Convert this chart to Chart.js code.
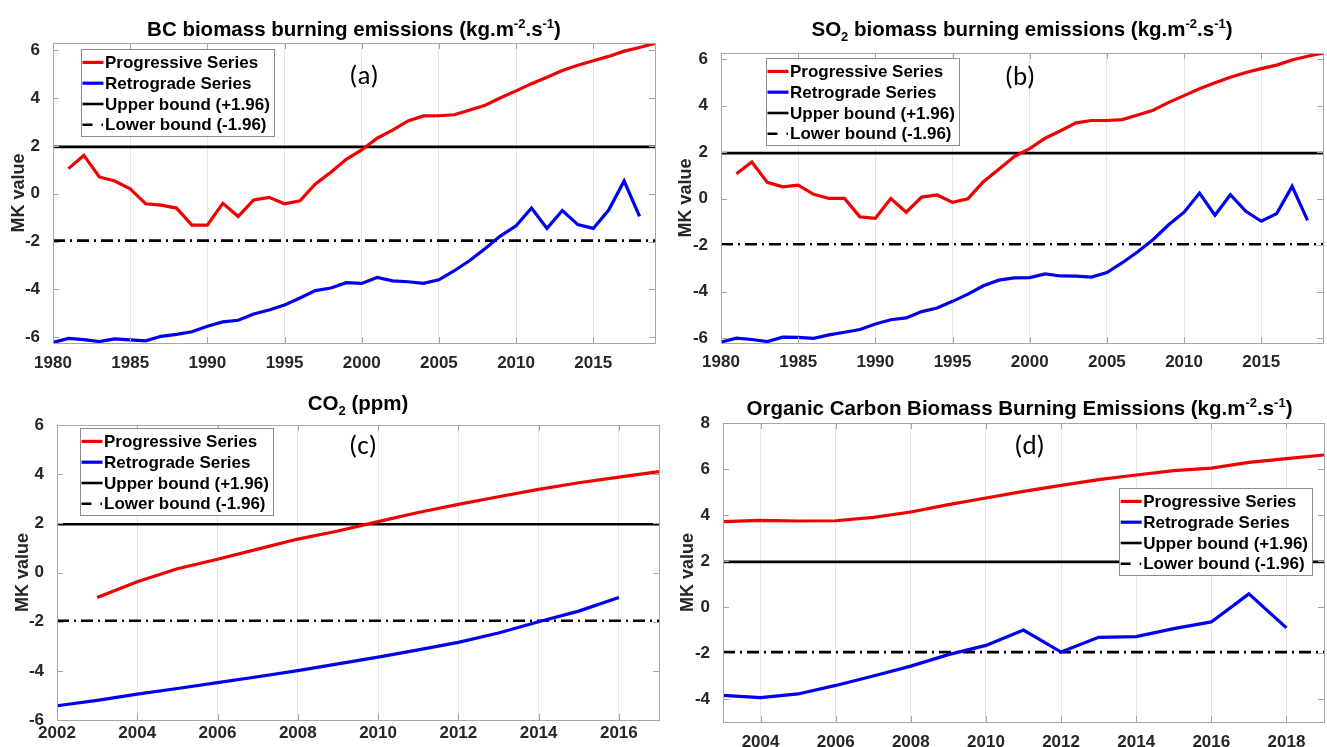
<!DOCTYPE html>
<html>
<head>
<meta charset="utf-8">
<title>Mann-Kendall sequential test</title>
<script src="https://cdn.jsdelivr.net/npm/chart.js@4.4.0/dist/chart.umd.min.js"></script>
<style>
  html, body { margin: 0; padding: 0; background: #fff; }
  body { width: 1327px; height: 747px; position: relative; overflow: hidden; }
  canvas { position: absolute; }
</style>
</head>
<body>
<canvas id="chart-a" width="660" height="375" style="left:0;top:0"></canvas>
<canvas id="chart-b" width="667" height="375" style="left:660px;top:0"></canvas>
<canvas id="chart-c" width="660" height="372" style="left:0;top:375px"></canvas>
<canvas id="chart-d" width="667" height="372" style="left:660px;top:375px"></canvas>
<script>
// ---- data ----
const yearsA = [1980, 1981, 1982, 1983, 1984, 1985, 1986, 1987, 1988, 1989, 1990, 1991, 1992, 1993, 1994, 1995, 1996, 1997, 1998, 1999,
                2000, 2001, 2002, 2003, 2004, 2005, 2006, 2007, 2008, 2009, 2010, 2011, 2012, 2013, 2014, 2015, 2016, 2017, 2018, 2019];
const progA = [null, 1.05, 1.6, 0.7, 0.53, 0.2, -0.42, -0.48, -0.6, -1.31, -1.31, -0.4, -0.95, -0.26, -0.15, -0.42, -0.3, 0.41, 0.9, 1.44,
               1.83, 2.32, 2.66, 3.04, 3.25, 3.26, 3.3, 3.5, 3.7, 4.01, 4.3, 4.6, 4.87, 5.15, 5.37, 5.56, 5.74, 5.96, 6.11, 6.29];
const retroA = [-6.22, -6.05, -6.1, -6.18, -6.07, -6.11, -6.15, -5.96, -5.88, -5.77, -5.54, -5.36, -5.29, -5.03, -4.86, -4.65, -4.36, -4.05, -3.94, -3.72,
                -3.75, -3.5, -3.64, -3.68, -3.75, -3.6, -3.22, -2.79, -2.29, -1.76, -1.34, -0.6, -1.45, -0.7, -1.29, -1.45, -0.68, 0.53, -0.95, null];

const yearsB = yearsA;
const progB = [null, 1.07, 1.58, 0.7, 0.51, 0.58, 0.19, 0.01, 0.01, -0.78, -0.84, 0.01, -0.58, 0.07, 0.16, -0.16, 0.0, 0.73, 1.27, 1.81,
               2.15, 2.6, 2.92, 3.26, 3.36, 3.36, 3.4, 3.6, 3.8, 4.14, 4.43, 4.72, 4.98, 5.22, 5.42, 5.59, 5.74, 5.96, 6.12, 6.26];
const retroB = [-6.16, -5.99, -6.05, -6.14, -5.95, -5.96, -6.0, -5.85, -5.74, -5.62, -5.38, -5.2, -5.12, -4.85, -4.7, -4.41, -4.1, -3.74, -3.5, -3.4,
                -3.39, -3.23, -3.32, -3.33, -3.37, -3.17, -2.75, -2.28, -1.75, -1.12, -0.58, 0.24, -0.71, 0.17, -0.54, -0.97, -0.64, 0.53, -0.93, null];

const yearsC = [2002, 2003, 2004, 2005, 2006, 2007, 2008, 2009, 2010, 2011, 2012, 2013, 2014, 2015, 2016, 2017];
const progC = [null, -1.02, -0.38, 0.15, 0.54, 0.95, 1.36, 1.69, 2.07, 2.44, 2.77, 3.08, 3.38, 3.65, 3.88, 4.1];
const retroC = [-5.42, -5.2, -4.95, -4.72, -4.48, -4.24, -3.99, -3.72, -3.44, -3.15, -2.84, -2.46, -2.0, -1.57, -1.02, null];

const yearsD = [2003, 2004, 2005, 2006, 2007, 2008, 2009, 2010, 2011, 2012, 2013, 2014, 2015, 2016, 2017, 2018, 2019];
const progD = [3.71, 3.77, 3.74, 3.75, 3.9, 4.13, 4.45, 4.74, 5.03, 5.29, 5.54, 5.74, 5.93, 6.04, 6.29, 6.45, 6.61];
const retroD = [-3.84, -3.94, -3.78, -3.41, -3.0, -2.57, -2.07, -1.67, -1.0, -1.96, -1.32, -1.29, -0.94, -0.65, 0.57, -0.91, null];

// tick labels
const xTicksAB = [1980, 1985, 1990, 1995, 2000, 2005, 2010, 2015];
const xTicksC = [2002, 2004, 2006, 2008, 2010, 2012, 2014, 2016];
const xTicksD = [2004, 2006, 2008, 2010, 2012, 2014, 2016, 2018];
const yTicksABC = [-6, -4, -2, 0, 2, 4, 6];
const yTicksD = [-4, -2, 0, 2, 4, 6, 8];

const upperBound = 1.96;
const lowerBound = -1.96;

// ---- style ----
const FONT = "'Liberation Sans', Arial, Helvetica, sans-serif";
const TICK_COLOR = '#262626';
const BOX_COLOR = '#a6a6a6';
const DASH_DOT = [12, 5, 2, 5];

// title with super/subscripts, drawn centred over the plot area
const titlePlugin = {
    id: 'mkTitle',
    afterDraw(chart, args, opts) {
        if (!opts.parts) return;
        const ctx = chart.ctx, a = chart.chartArea;
        const size = 20.5, small = 13;
        ctx.save();
        ctx.fillStyle = '#000';
        ctx.textBaseline = 'alphabetic';
        let total = 0;
        opts.parts.forEach(p => {
            ctx.font = `bold ${p[1] ? small : size}px ${FONT}`;
            total += ctx.measureText(p[0]).width;
        });
        let x = (a.left + a.right) / 2 + (opts.dx || 0) - total / 2;
        opts.parts.forEach(p => {
            ctx.font = `bold ${p[1] ? small : size}px ${FONT}`;
            const dy = p[1] === 'sup' ? -8 : p[1] === 'sub' ? 5 : 0;
            ctx.textAlign = 'left';
            ctx.fillText(p[0], x, opts.y + dy);
            x += ctx.measureText(p[0]).width;
        });
        // panel letter
        ctx.font = `27px Carlito, Lato, 'Open Sans', sans-serif`;
        ctx.textAlign = 'center';
        ctx.textBaseline = 'middle';
        ctx.fillText(opts.letter, (a.left + a.right) / 2 + opts.letterDx, opts.letterY);
        ctx.restore();
    }
};

// axes box with inward tick marks (MATLAB "box on")
const boxPlugin = {
    id: 'mkBox',
    afterDatasetsDraw(chart) {
        const ctx = chart.ctx, a = chart.chartArea;
        const xs = chart.scales.x, ys = chart.scales.y;
        ctx.save();
        ctx.strokeStyle = BOX_COLOR;
        ctx.lineWidth = 1;
        ctx.strokeRect(Math.round(a.left) + 0.5, Math.round(a.top) + 0.5, Math.round(a.right - a.left), Math.round(a.bottom - a.top));
        ctx.beginPath();
        ys.ticks.forEach(t => {
            const y = Math.round(ys.getPixelForValue(t.value)) + 0.5;
            ctx.moveTo(a.left, y); ctx.lineTo(a.left + 6, y);
            ctx.moveTo(a.right, y); ctx.lineTo(a.right - 6, y);
        });
        xs.ticks.forEach(t => {
            const x = Math.round(xs.getPixelForValue(t.value)) + 0.5;
            ctx.moveTo(x, a.bottom); ctx.lineTo(x, a.bottom - 6);
            ctx.moveTo(x, a.top); ctx.lineTo(x, a.top + 6);
        });
        ctx.stroke();
        ctx.restore();
    }
};

// legend box inside the plot area
const legendPlugin = {
    id: 'mkLegend',
    afterDatasetsDraw(chart, args, opts) {
        const ctx = chart.ctx, a = chart.chartArea;
        const items = chart.data.datasets;
        const rowH = 20.8, lineLen = 21;
        ctx.save();
        ctx.font = `bold 17px ${FONT}`;
        const textW = Math.max(...items.map(d => ctx.measureText(d.label).width));
        const w = 1.5 + lineLen + 1.5 + textW + 4;
        const h = rowH * items.length + 4;
        const x = opts.right != null ? a.right - opts.right - w : a.left + opts.left;
        const y = a.top + opts.top;
        ctx.fillStyle = '#fff';
        ctx.fillRect(x, y, w, h);
        ctx.strokeStyle = '#8c8c8c';
        ctx.lineWidth = 1;
        ctx.strokeRect(Math.round(x) + 0.5, Math.round(y) + 0.5, Math.round(w), Math.round(h));
        items.forEach((d, i) => {
            const cy = y + 3 + rowH * (i + 0.5);
            ctx.strokeStyle = d.borderColor;
            ctx.lineWidth = d.borderWidth;
            ctx.setLineDash(d.borderDash ? [10, 9, 1.5, 10] : []);
            ctx.beginPath();
            ctx.moveTo(x + 1.5, cy);
            ctx.lineTo(x + 1.5 + lineLen, cy);
            ctx.stroke();
            ctx.setLineDash([]);
            ctx.fillStyle = '#000';
            ctx.textAlign = 'left';
            ctx.textBaseline = 'middle';
            ctx.fillText(d.label, x + 3 + lineLen, cy + 1);
        });
        ctx.restore();
    }
};

function makeChart(id, cfg) {
    const years = cfg.years;
    const first = years[0], last = years[years.length - 1];
    return new Chart(document.getElementById(id), {
        type: 'line',
        data: {
            labels: years,
            datasets: [
                { label: 'Progressive Series', data: cfg.prog, borderColor: '#f00000', borderWidth: 3.2 },
                { label: 'Retrograde Series', data: cfg.retro, borderColor: '#0000f0', borderWidth: 3.2 },
                { label: 'Upper bound (+1.96)', data: [{ x: first, y: upperBound }, { x: last, y: upperBound }], borderColor: '#000', borderWidth: 2.6 },
                { label: 'Lower bound (-1.96)', data: [{ x: first, y: lowerBound }, { x: last, y: lowerBound }], borderColor: '#000', borderWidth: 2.6, borderDash: DASH_DOT }
            ]
        },
        options: {
            responsive: false,
            animation: false,
            devicePixelRatio: 1,
            elements: { point: { radius: 0 }, line: { tension: 0 } },
            layout: { padding: { top: cfg.padTop, right: cfg.padRight, left: 0, bottom: 0 } },
            plugins: {
                legend: { display: false },
                tooltip: { enabled: false },
                mkTitle: { parts: cfg.title, y: cfg.titleY, dx: cfg.titleDx || 0, letter: cfg.letter, letterDx: cfg.letterDx, letterY: cfg.letterY },
                mkLegend: cfg.legend
            },
            scales: {
                x: {
                    type: 'linear',
                    min: first,
                    max: last,
                    afterBuildTicks: s => { s.ticks = cfg.xTicks.map(v => ({ value: v })); },
                    ticks: { padding: cfg.xPad, color: TICK_COLOR, autoSkip: false,
                             font: { family: FONT, size: 17, weight: 'bold' }, maxRotation: 0,
                             callback: v => String(v) },
                    grid: { color: '#e6e6e6', drawTicks: false, lineWidth: 1 },
                    border: { display: false },
                    afterFit: s => { s.height = cfg.xHeight; }
                },
                y: {
                    min: cfg.yMin,
                    max: cfg.yMax,
                    afterBuildTicks: s => { s.ticks = cfg.yTicks.map(v => ({ value: v })); },
                    ticks: { padding: 5, color: TICK_COLOR, autoSkip: false,
                             font: { family: FONT, size: 17, weight: 'bold' } },
                    grid: { display: false },
                    border: { display: false },
                    title: { display: true, text: 'MK value', color: TICK_COLOR,
                             font: { family: FONT, size: 18, weight: 'bold' }, padding: { top: cfg.yTitlePad, bottom: 0 } },
                    afterFit: s => { s.width = cfg.yWidth; }
                }
            }
        },
        plugins: [boxPlugin, legendPlugin, titlePlugin]
    });
}

makeChart('chart-a', {
    years: yearsA, prog: progA, retro: retroA, xTicks: xTicksAB, yTicks: yTicksABC, yMin: -6.24, yMax: 6.3,
    padTop: 43, padRight: 5, yWidth: 53, xHeight: 32, xPad: 10, yTitlePad: 8,
    title: [['BC biomass burning emissions (kg.m', 0], ['-2', 'sup'], ['.s', 0], ['-1', 'sup'], [')', 0]],
    titleY: 36, letter: '(a)', letterDx: 10, letterY: 77,
    legend: { left: 28, top: 6 }
});

makeChart('chart-b', {
    years: yearsB, prog: progB, retro: retroB, xTicks: xTicksAB, yTicks: yTicksABC, yMin: -6.2, yMax: 6.26,
    padTop: 53, padRight: 4, yWidth: 61, xHeight: 32, xPad: 9, yTitlePad: 15,
    title: [['SO', 0], ['2', 'sub'], [' biomass burning emissions (kg.m', 0], ['-2', 'sup'], ['.s', 0], ['-1', 'sup'], [')', 0]],
    titleY: 36, letter: '(b)', letterDx: -2, letterY: 78,
    legend: { left: 45, top: 5 }
});

makeChart('chart-c', {
    years: yearsC, prog: progC, retro: retroC, xTicks: xTicksC, yTicks: yTicksABC, yMin: -6, yMax: 6,
    padTop: 50, padRight: 1, yWidth: 57, xHeight: 27, xPad: 3, yTitlePad: 12,
    title: [['CO', 0], ['2', 'sub'], [' (ppm)', 0]],
    titleY: 35, letter: '(c)', letterDx: 5, letterY: 72,
    legend: { left: 23, top: 3 }
});

makeChart('chart-d', {
    years: yearsD, prog: progD, retro: retroD, xTicks: xTicksD, yTicks: yTicksD, yMin: -5, yMax: 8,
    padTop: 48, padRight: 3, yWidth: 63, xHeight: 25, xPad: 10, yTitlePad: 17,
    title: [['Organic Carbon Biomass Burning Emissions (kg.m', 0], ['-2', 'sup'], ['.s', 0], ['-1', 'sup'], [')', 0]],
    titleY: 40, titleDx: -4, letter: '(d)', letterDx: 6, letterY: 72,
    legend: { right: 12, top: 65 }
});
</script>
</body>
</html>
